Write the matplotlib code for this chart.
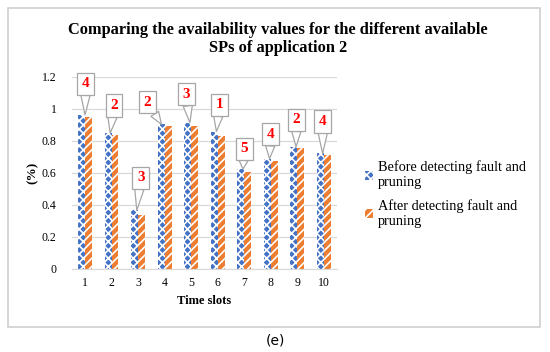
import matplotlib
matplotlib.use("Agg")
import matplotlib.pyplot as plt
from matplotlib.patches import Rectangle
import numpy as np

plt.rcParams['font.family'] = ['Liberation Serif', 'DejaVu Serif']
plt.rcParams['hatch.linewidth'] = 1.2

slots = [1, 2, 3, 4, 5, 6, 7, 8, 9, 10]
before = [0.962, 0.848, 0.366, 0.903, 0.913, 0.858, 0.624, 0.688, 0.763, 0.721]
after = [0.950, 0.838, 0.340, 0.894, 0.890, 0.830, 0.608, 0.677, 0.754, 0.709]
sp_counts = [4, 2, 3, 2, 3, 1, 5, 4, 2, 4]

# callout box centres (x in slots, y in data) and pointer tips
box_x = [1.03, 2.09, 3.10, 3.35, 4.82, 6.07, 7.00, 8.00, 8.97, 9.96]
box_y = [1.155, 1.02, 0.57, 1.04, 1.09, 1.025, 0.75, 0.84, 0.93, 0.92]
tip_dx = [0.0, -0.05, -0.05, -0.12, -0.05, -0.05, -0.05, -0.05, -0.05, -0.05]

fig = plt.figure(figsize=(5.5, 3.52), dpi=100)
ax = fig.add_axes([0.1304, 0.2358, 0.4827, 0.5463])

x = np.array(slots)
w = 0.26
ax.bar(x - w / 2, before, w, color='#4472C4', edgecolor='white', hatch='xxxx', linewidth=0,
       label='Before detecting fault and\npruning', zorder=2)
ax.bar(x + w / 2, after, w, color='#ED7D31', edgecolor='white', hatch='////', linewidth=0,
       label='After detecting fault and\npruning', zorder=2)

for i, n in enumerate(sp_counts):
    top = max(before[i], after[i])
    ax.annotate(str(n), xy=(slots[i] + tip_dx[i], top), xytext=(box_x[i], box_y[i]),
                ha='center', va='center', color='#FF0000', fontsize=11, fontweight='bold',
                bbox=dict(boxstyle='square,pad=0.3', fc='white', ec='#a6a6a6', lw=0.9),
                arrowprops=dict(arrowstyle='wedge,tail_width=0.6,shrink_factor=0.5',
                                fc='white', ec='#a6a6a6', lw=0.9, shrinkA=0, shrinkB=0),
                zorder=4, annotation_clip=False)

ax.set_xlim(0.5, 10.5)
ax.set_ylim(0, 1.2)
ax.set_xticks(slots)
ax.set_yticks([0, 0.2, 0.4, 0.6, 0.8, 1.0, 1.2])
ax.set_yticklabels(['0', '0.2', '0.4', '0.6', '0.8', '1', '1.2'])
ax.tick_params(length=0, labelsize=8.5, pad=6)
ax.tick_params(axis='y', pad=11)
ax.yaxis.grid(True, color='#d9d9d9', lw=0.9, zorder=0)
for s in ['top', 'right', 'left']:
    ax.spines[s].set_visible(False)
ax.spines['bottom'].set_color('#d9d9d9')
ax.set_xlabel('Time slots', fontsize=9, fontweight='bold', labelpad=4)
ax.set_ylabel('(%)', fontsize=9.5, fontweight='bold')
ax.yaxis.set_label_coords(-0.125, 0.5)

fig.text(0.505, 1 - 39 / 352, 'Comparing the availability values for the different available\nSPs of application 2',
         ha='center', va='center', fontsize=11.8, fontweight='bold', linespacing=1.1)

fig.legend(loc='upper left', bbox_to_anchor=(0.64, 0.58), frameon=False, fontsize=10.3,
           handlelength=0.6, handleheight=0.6, handletextpad=0.3, labelspacing=0.65)

fig.patches.append(Rectangle((8 / 550, 1 - 327 / 352), 532 / 550, 319 / 352, transform=fig.transFigure,
                             fill=False, ec='#d0d0d0', lw=1.2))
fig.text(0.5, 1 - 340 / 352, '(e)', ha='center', va='center', fontsize=10, family='DejaVu Sans')

fig.savefig('out.png', dpi=100)
